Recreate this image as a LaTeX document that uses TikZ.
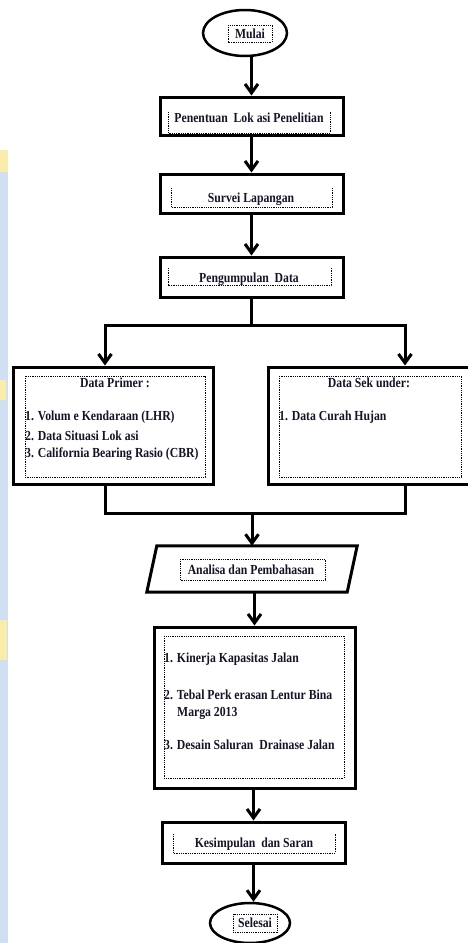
\documentclass[tikz,border=0pt]{standalone}
\usepackage{fontspec}
\setmainfont{Liberation Serif}
\newfontfamily\flowfont{Liberation Serif}[FakeStretch=0.85]
\usetikzlibrary{arrows.meta,shapes.geometric,calc}
\definecolor{wmblue}{RGB}{208,224,242}
\definecolor{wmyellow}{RGB}{250,236,170}
\definecolor{txtcol}{RGB}{20,20,40}
\begin{document}
\begin{tikzpicture}[x=1pt,y=-1pt,
  box/.style={draw,line width=3pt,rectangle,inner sep=0pt},
  term/.style={draw,line width=2.5pt,ellipse,inner sep=0pt},
  ln/.style={line width=3pt,line join=miter},
  arr/.style={line width=3pt,-{Straight Barb[length=9pt,width=13pt]}},
  dotb/.style={line width=1pt,dash pattern=on 1pt off 0.8pt},
  txt/.style={font=\flowfont\fontsize{13.8}{16}\selectfont\bfseries,text=txtcol,inner sep=0pt},
]
\useasboundingbox (0,0) rectangle (467,943);
\fill[white] (0,0) rectangle (467,943);
% faint watermark strip on the left
\fill[wmblue] (0,150) rectangle (8,943);
\fill[wmyellow] (0,150) rectangle (8,172);
\fill[wmyellow] (0,380) rectangle (6,400);
\fill[wmyellow] (0,620) rectangle (7,660);

% terminals
\node[term,minimum width=84pt,minimum height=46pt] (mulai) at (245,33) {};
\draw[dotb] (228,25) rectangle (272,42);
\node[txt] (tmulai) at (250,33.5) {Mulai};

\node[term,minimum width=80pt,minimum height=40pt] (selesai) at (250,923) {};
\draw[dotb] (233,914) rectangle (277,932);
\node[txt] (tselesai) at (255,923) {Selesai};

% process boxes
\node[box,minimum width=183pt,minimum height=38pt] (b1) at (251.5,116) {};
\draw[dotb] (168,112) -- (168,133) -- (330,133) -- (330,112);
\node[txt] (t1) at (249,118) {Penentuan\ \ Lok asi Penelitian};

\node[box,minimum width=183pt,minimum height=39pt] (b2) at (251.5,193.5) {};
\draw[dotb] (171,188) -- (171,207) -- (332,207) -- (332,188);
\node[txt] (t2) at (251,199) {Survei Lapangan};

\node[box,minimum width=183pt,minimum height=40pt] (b3) at (251.5,277) {};
\draw[dotb] (168,268) -- (168,285) -- (331,285) -- (331,268);
\node[txt] (t3) at (249,279) {Pengumpulan\ \ Data};

% data boxes
\node[box,minimum width=200pt,minimum height=117pt] (prim) at (113,425.5) {};
\draw[dotb] (25,376) rectangle (205,477);
\node[txt] (tp0) at (115,383) {Data Primer :};
\node[txt,anchor=west] (tp1) at (25,417) {1. Volum e Kendaraan (LHR)};
\node[txt,anchor=west] (tp2) at (25,436) {2. Data Situasi Lok asi};
\node[txt,anchor=west] (tp3) at (25,454) {3. California Bearing Rasio (CBR)};

\node[box,minimum width=202pt,minimum height=117pt] (sek) at (369,425.5) {};
\draw[dotb] (279,376) rectangle (461,477);
\node[txt] (ts0) at (369,383) {Data Sek under:};
\node[txt,anchor=west] (ts1) at (279,417) {1. Data Curah Hujan};

% analysis parallelogram
\node[minimum width=200pt,minimum height=46pt,inner sep=0pt] (ana) at (252,569) {};
\draw[line width=3pt,line join=miter] ($(ana.north west)+(5,0)$) -- ($(ana.north east)+(5,0)$) -- ($(ana.south east)+(-5,0)$) -- ($(ana.south west)+(-5,0)$) -- cycle;
\draw[dotb] (180,559) rectangle (325,580);
\node[txt] (ta) at (251,570) {Analisa dan Pembahasan};

% results box
\node[box,minimum width=201pt,minimum height=161pt] (big) at (254.5,707.5) {};
\draw[dotb] (164,636) rectangle (344,778);
\node[txt,anchor=west] (tb1) at (164,659) {1. Kinerja Kapasitas Jalan};
\node[txt,anchor=west] (tb2) at (164,695) {2. Tebal Perk erasan Lentur Bina};
\node[txt,anchor=west] (tb2b) at (177,713) {Marga 2013};
\node[txt,anchor=west] (tb3) at (164,745) {3. Desain Saluran\ \ Drainase Jalan};

\node[box,minimum width=183pt,minimum height=41pt] (kes) at (253.5,842.5) {};
\draw[dotb] (173,834) -- (173,853) -- (335,853) -- (335,834);
\node[txt] (tk) at (254,844) {Kesimpulan\ \ dan Saran};

% connectors
\draw[arr] (b1.north |- mulai.south) -- (b1.north);
\draw[arr] (b1.south) -- (b2.north);
\draw[arr] (b2.south) -- (b3.north);

\coordinate (bl) at (105,325);
\coordinate (br) at (405,325);
\draw[ln] (b3.south) -- (b3.south |- bl);
\draw[ln,line cap=rect] (bl) -- (br);
\draw[arr] (bl) -- (bl |- prim.north);
\draw[arr] (br) -- (br |- sek.north);

\coordinate (ml) at (105,513);
\coordinate (mr) at (405,513);
\draw[ln] (ml |- prim.south) -- (ml) -- (mr) -- (mr |- sek.south);
\draw[arr] (ana.north |- ml) -- (ana.north);

\draw[arr] (big.north |- ana.south) -- (big.north);
\draw[arr] (big.south -| kes.north) -- (kes.north);
\draw[arr] (kes.south) -- (kes.south |- selesai.north);
\end{tikzpicture}
\end{document}
